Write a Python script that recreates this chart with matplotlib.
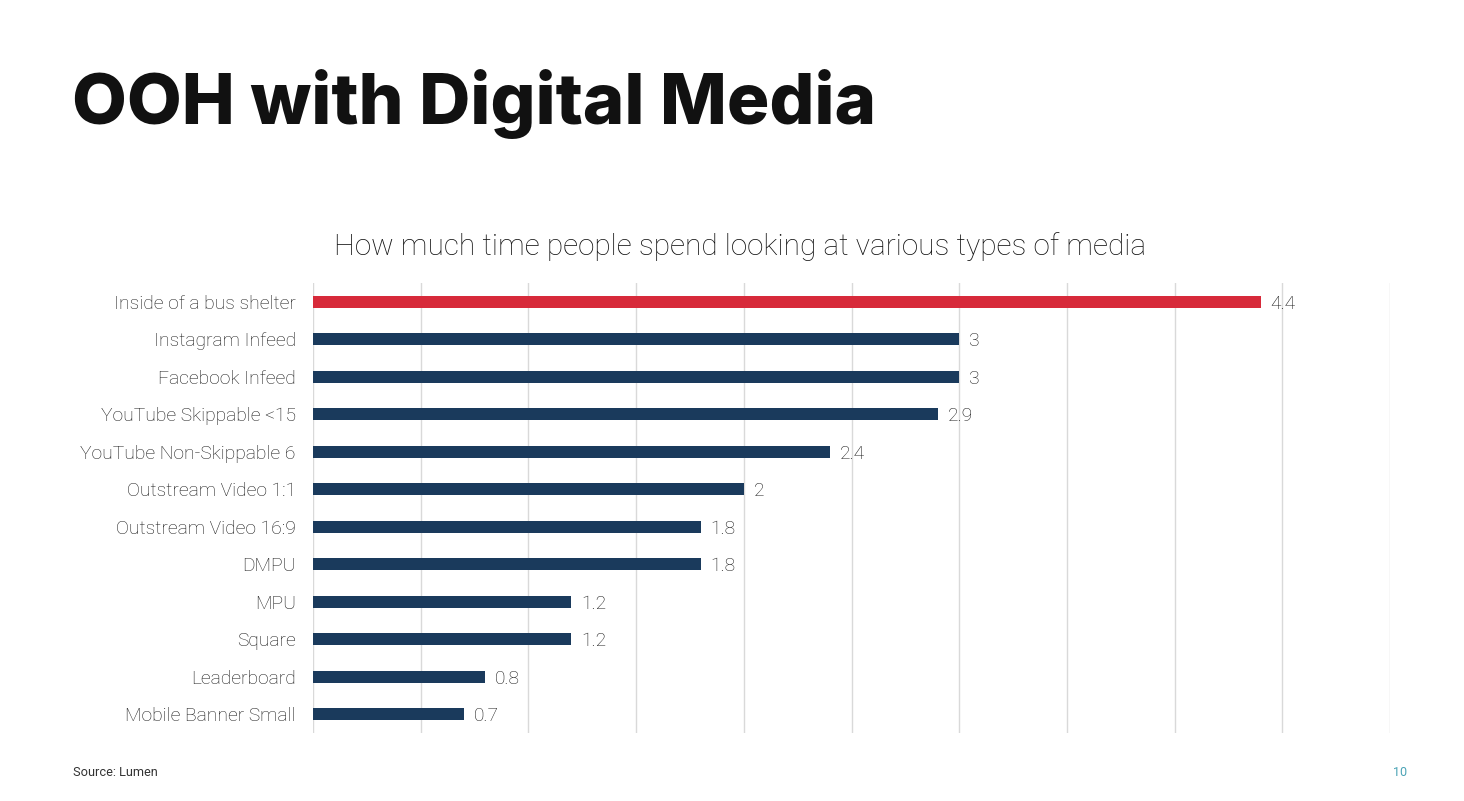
import matplotlib.pyplot as plt

# Data
categories = ['Inside of a bus shelter', 'Instagram Infeed', 'Facebook Infeed',
              'YouTube Skippable <15', 'YouTube Non-Skippable 6', 'Outstream Video 1:1',
              'Outstream Video 16:9', 'DMPU', 'MPU', 'Square', 'Leaderboard',
              'Mobile Banner Small']
values = [4.4, 3, 3, 2.9, 2.4, 2, 1.8, 1.8, 1.2, 1.2, 0.8, 0.7]
value_labels = ['4.4', '3', '3', '2.9', '2.4', '2', '1.8', '1.8', '1.2', '1.2', '0.8', '0.7']

navy = '#1a3a5c'
red = '#d72a3a'
colors = [red] + [navy] * (len(values) - 1)

fig = plt.figure(figsize=(14.64, 8.01), dpi=100)
ax = fig.add_axes([313 / 1464, 1 - 733 / 801, (1390 - 313) / 1464, (733 - 283) / 801])

ypos = list(range(len(categories)))
ax.barh(ypos, values, height=0.32, color=colors, zorder=3)
ax.set_ylim(len(categories) - 0.5, -0.5)
ax.set_xlim(0, 5)
ax.set_xticks([i * 0.5 for i in range(11)])
ax.xaxis.grid(True, color='#d9d9d9', linewidth=1, zorder=0)
ax.tick_params(axis='x', length=0, labelbottom=False)
ax.tick_params(axis='y', length=0, pad=12.5)
ax.set_yticks(ypos)
ax.set_yticklabels(categories, fontfamily='Roboto', fontweight='light',
                   fontsize=13.9, color='#1a1a1a')
for s in ax.spines.values():
    s.set_visible(False)

for y, v, lab in zip(ypos, values, value_labels):
    ax.text(v + 0.046, y, lab, va='center_baseline', ha='left', fontfamily='Roboto',
            fontweight='light', fontsize=13.9, color='#1a1a1a')

# Titles
fig.text(72 / 1464, 1 - 104 / 801, 'OOH with Digital Media', fontfamily='Inter',
         fontweight='heavy', fontsize=51, color='#111111', va='center', ha='left')
fig.text(740 / 1464, 1 - 247 / 801, 'How much time people spend looking at various types of media',
         fontfamily='Roboto', fontweight='light', fontsize=21.4, color='#111111',
         va='center', ha='center')
fig.text(73 / 1464, 1 - 772 / 801, 'Source: Lumen', fontfamily='Roboto',
         fontsize=9.2, color='#333333', va='center', ha='left')
fig.text(1400 / 1464, 1 - 772 / 801, '10', fontfamily='Roboto',
         fontsize=9, color='#4aa3b5', va='center', ha='center')

fig.savefig('out.png', dpi=100)
